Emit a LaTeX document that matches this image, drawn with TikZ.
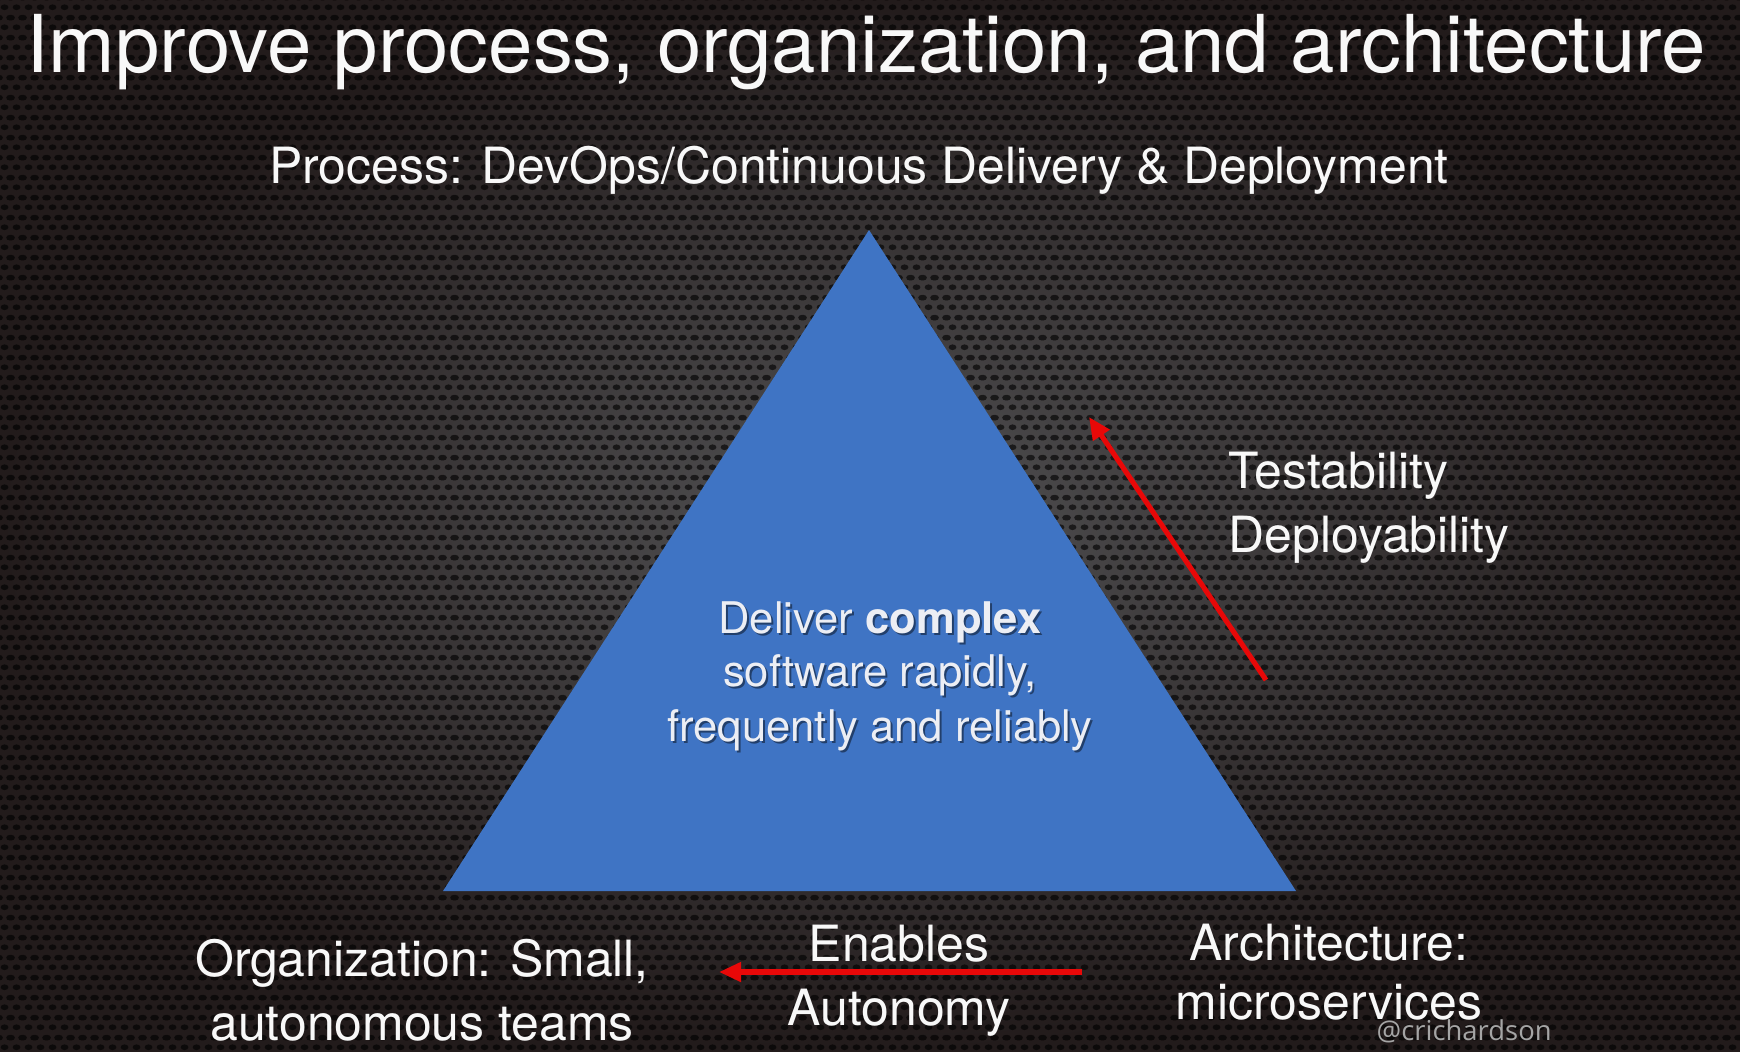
\documentclass[tikz,border=0pt]{standalone}
\usepackage{fontspec}
\setmainfont{TeX Gyre Heros}
\newfontfamily\handlefont{Open Sans}
\usetikzlibrary{arrows.meta,patterns}

\definecolor{bgmid}{RGB}{82,82,84}
\definecolor{bgedge}{RGB}{34,27,27}
\definecolor{pyramid}{RGB}{63,116,196}
\definecolor{accent}{RGB}{232,8,8}
\definecolor{ink}{RGB}{248,248,248}
\definecolor{coreink}{RGB}{236,238,244}
\definecolor{handle}{RGB}{165,165,165}

% staggered perforated-metal mesh used as the backdrop texture
\pgfdeclarepatternformonly{hexmesh}{\pgfpointorigin}{\pgfqpoint{3.414pt}{5.69pt}}{\pgfqpoint{3.414pt}{5.69pt}}{%
  \pgfpathellipse{\pgfqpoint{1.707pt}{1.42pt}}{\pgfqpoint{1.2pt}{0pt}}{\pgfqpoint{0pt}{0.85pt}}%
  \pgfpathellipse{\pgfqpoint{0pt}{4.27pt}}{\pgfqpoint{1.2pt}{0pt}}{\pgfqpoint{0pt}{0.85pt}}%
  \pgfpathellipse{\pgfqpoint{3.414pt}{4.27pt}}{\pgfqpoint{1.2pt}{0pt}}{\pgfqpoint{0pt}{0.85pt}}%
  \pgfusepath{fill}%
}

\tikzset{
  headline/.style={text=ink, anchor=base, inner sep=0pt, font=\fontsize{22.7}{27}\selectfont},
  plaintext/.style={text=ink, inner sep=0pt, font=\fontsize{14.2}{17}\selectfont},
  coretext/.style={text=coreink, anchor=base, inner sep=0pt, font=\fontsize{12.4}{15}\selectfont},
  coreshadow/.style={coretext, text=black, text opacity=0.45},
  handletext/.style={text=handle, inner sep=0pt, font=\handlefont\fontsize{7.8}{9}\selectfont},
  flow/.style={draw=accent, line width=1.45pt, -{Triangle[length=6.3pt,width=5.4pt]}}
}

\begin{document}
\begin{tikzpicture}[x=0.01cm, y=-0.01cm]
\useasboundingbox (0,0) rectangle (1740,1051);

% backdrop: vignetted dark metal
\shade[inner color=bgmid, outer color=bgedge] (0,0) rectangle (1740,1051);
\fill[pattern=hexmesh, pattern color=black, opacity=0.62] (0,0) rectangle (1740,1051);

% headings
\node[headline] (title) at (866,72) {Improve process, organization, and architecture};
\node[plaintext, anchor=base] (process) at (859,183) {Process: DevOps/Continuous Delivery \& Deployment};

% the pyramid
\coordinate (apex) at (869,230);
\coordinate (bl) at (443,891);
\coordinate (br) at (1296,891);
\fill[pyramid] (apex) -- (br) -- (bl) -- cycle;

% goal statement with a soft drop shadow
\node[coreshadow] (core1s) at (882,635) {Deliver \textbf{complex}};
\node[coreshadow] (core2s) at (882,688) {software rapidly,};
\node[coreshadow] (core3s) at (882,743) {frequently and reliably};
\node[coretext] (core1) at (880,633) {Deliver \textbf{complex}};
\node[coretext] (core2) at (880,686) {software rapidly,};
\node[coretext] (core3) at (880,741) {frequently and reliably};

% right-hand side
\node[plaintext, anchor=base west] (testability) at (1228,488) {Testability};
\node[plaintext, anchor=base west] (deployability) at (1228,552) {Deployability};
\coordinate (upfrom) at (1266,680);
\coordinate (upto) at (1089,417);
\draw[flow] (upfrom) -- (upto);

% bottom row
\node[plaintext, anchor=base] (org1) at (422,976) {Organization: Small,};
\node[plaintext, anchor=base] (org2) at (422,1040) {autonomous teams};
\node[plaintext, anchor=base] (enables) at (899,961) {Enables};
\node[plaintext, anchor=base] (autonomy) at (899,1025) {Autonomy};
\node[plaintext, anchor=base] (arch1) at (1329,960) {Architecture:};
\node[plaintext, anchor=base] (arch2) at (1329,1019) {microservices};
\coordinate (leftfrom) at (1082,972);
\coordinate (leftto) at (719,972);
\draw[flow] (leftfrom) -- (leftto);

\node[handletext, anchor=base west] (handle) at (1376,1040) {@crichardson};
\end{tikzpicture}
\end{document}
